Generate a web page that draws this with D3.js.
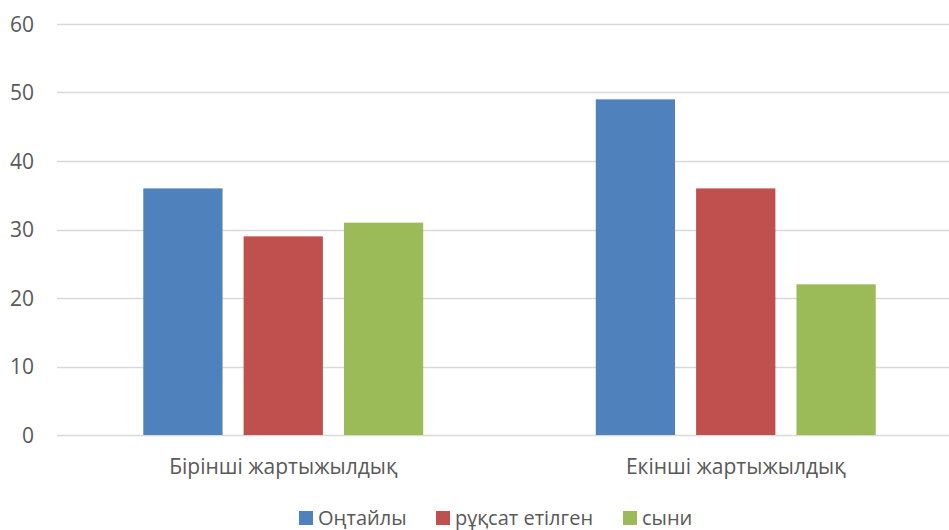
<!DOCTYPE html>
<html>
<head>
<meta charset="utf-8">
<script src="https://cdn.jsdelivr.net/npm/d3@7/dist/d3.min.js"></script>
<style>
  html, body { margin: 0; padding: 0; background: #fff; overflow: hidden; }
  svg { display: block; }
  text { font-family: "Open Sans", "Noto Sans", sans-serif; fill: #595959; }
</style>
</head>
<body>
<svg id="chart" width="949" height="530"></svg>
<script>
// Half-year categories and the three rating series
const categories = ["Бірінші жартыжылдық", "Екінші жартыжылдық"];
const seriesNames = ["Оңтайлы", "рұқсат етілген", "сыни"];
const optimal   = [36, 49];
const allowed   = [29, 36];
const critical  = [31, 22];
const yTicks = [0, 10, 20, 30, 40, 50, 60];
const colors = ["#4F81BD", "#C0504D", "#9BBB59"];

const seriesValues = [optimal, allowed, critical];

const svg = d3.select("#chart");
const W = 949, H = 530;

// Plot area: the category band runs slightly past the right edge
const plot = { left: 57, right: 962, top: 24, bottom: 435 };

const x0 = d3.scaleBand()
  .domain(categories)
  .range([plot.left, plot.right])
  .padding(0);

const x1 = d3.scaleBand()
  .domain(seriesNames)
  .range([0, x0.bandwidth()])
  .paddingInner(0.21)
  .paddingOuter(0.86);

const y = d3.scaleLinear()
  .domain([0, 60])
  .range([plot.bottom, plot.top]);

// Horizontal gridlines
svg.append("g")
  .selectAll("line")
  .data(yTicks)
  .join("line")
  .attr("x1", plot.left)
  .attr("x2", W)
  .attr("y1", d => Math.round(y(d)) + 0.5)
  .attr("y2", d => Math.round(y(d)) + 0.5)
  .attr("stroke", "#D9D9D9")
  .attr("stroke-width", 1.3);

// Y axis labels
const yAxis = d3.axisLeft(y).tickValues(yTicks).tickSize(0).tickPadding(0);
const gy = svg.append("g")
  .attr("transform", `translate(34,0)`)
  .call(yAxis);
gy.select(".domain").remove();
gy.selectAll("text")
  .style("font-size", "21px")
  .style("font-family", "\"Open Sans\", \"Noto Sans\", sans-serif")
  .attr("fill", "#595959")
  .attr("dy", "0.35em");

// Bars
const rows = categories.map((c, i) => ({
  category: c,
  values: seriesNames.map((s, j) => ({ series: s, value: seriesValues[j][i], color: colors[j] }))
}));

svg.append("g")
  .selectAll("g")
  .data(rows)
  .join("g")
  .attr("transform", d => `translate(${x0(d.category)},0)`)
  .selectAll("rect")
  .data(d => d.values)
  .join("rect")
  .attr("x", d => x1(d.series))
  .attr("width", x1.bandwidth())
  .attr("y", d => y(d.value))
  .attr("height", d => y(0) - y(d.value))
  .attr("fill", d => d.color);

// Category labels
svg.append("g")
  .selectAll("text")
  .data(categories)
  .join("text")
  .attr("x", d => x0(d) + x0.bandwidth() / 2)
  .attr("y", 474)
  .attr("text-anchor", "middle")
  .style("font-size", "21px")
  .text(d => d);

// Legend
const legendItems = seriesNames.map((s, i) => ({ name: s, color: colors[i] }));
const legend = svg.append("g");
const itemX = [299, 436, 623];
legend.selectAll("g")
  .data(legendItems)
  .join("g")
  .attr("transform", (d, i) => `translate(${itemX[i]},511)`)
  .each(function(d) {
    const g = d3.select(this);
    g.append("rect").attr("width", 14).attr("height", 14).attr("fill", d.color);
    g.append("text").attr("x", 19).attr("y", 14).style("font-size", "20px").text(d.name);
  });
</script>
</body>
</html>
